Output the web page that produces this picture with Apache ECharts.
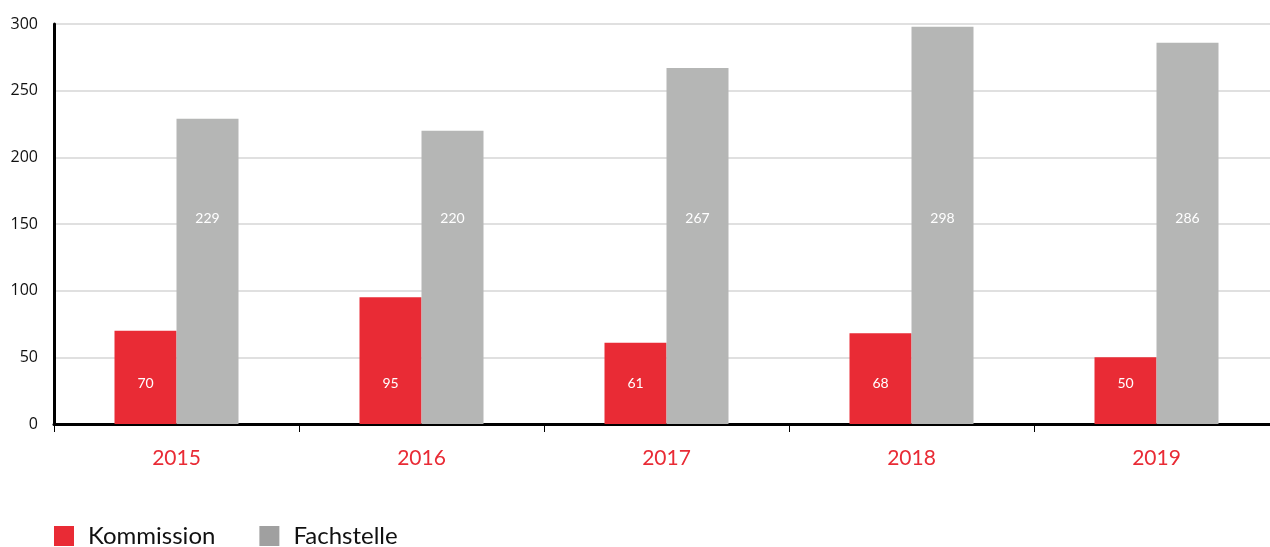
<!DOCTYPE html>
<html>
<head>
<meta charset="utf-8">
<script src="https://cdn.jsdelivr.net/npm/echarts@6/dist/echarts.min.js"></script>
<style>
  html, body { margin: 0; padding: 0; background: #fff; overflow: hidden; }
  #chart { width: 1280px; height: 547px; }
</style>
</head>
<body>
<div id="chart"></div>
<script>
var years = ['2015', '2016', '2017', '2018', '2019']
var kommission = [70, 95, 61, 68, 50]
var fachstelle = [229, 220, 267, 298, 286]
var yTicks = [0, 50, 100, 150, 200, 250, 300]

var red = '#e92b35'
var grey = '#b5b6b5'

var chart = echarts.init(document.getElementById('chart'))
chart.setOption({
  animation: false,
  textStyle: { fontFamily: 'Lato' },
  grid: { left: 54, top: 24, width: 1225, height: 400 },
  legend: {
    left: 54,
    top: 524,
    padding: 0,
    icon: 'rect',
    itemWidth: 20,
    itemHeight: 20,
    itemGap: 44,
    textStyle: { fontSize: 24, color: '#111', fontFamily: 'Lato', padding: [0, 0, 0, 9] },
    data: [
      { name: 'Kommission', itemStyle: { color: red } },
      { name: 'Fachstelle', itemStyle: { color: '#a0a0a0' } }
    ]
  },
  xAxis: {
    type: 'category',
    data: years,
    axisLine: { lineStyle: { color: '#000', width: 3 } },
    axisTick: { show: true, length: 8, lineStyle: { color: '#000', width: 1 } },
    axisLabel: { color: red, fontSize: 21, margin: 24, fontFamily: 'Lato' }
  },
  yAxis: {
    type: 'value',
    min: yTicks[0],
    max: yTicks[yTicks.length - 1],
    interval: 50,
    axisLine: { show: true, lineStyle: { color: '#000', width: 3 } },
    axisTick: { show: false },
    axisLabel: { color: '#111', fontSize: 16, margin: 16, fontFamily: 'Open Sans' },
    splitLine: { lineStyle: { color: '#e0e0e0', width: 2 } }
  },
  series: [
    {
      name: 'Kommission',
      type: 'bar',
      data: kommission,
      barWidth: 62,
      barGap: '0%',
      itemStyle: { color: red },
      label: {
        show: true,
        position: 'insideBottom',
        distance: 34,
        color: '#fff',
        fontSize: 14,
        fontFamily: 'Lato'
      }
    },
    {
      name: 'Fachstelle',
      type: 'bar',
      data: fachstelle,
      barWidth: 62,
      barGap: '0%',
      itemStyle: { color: grey },
      label: {
        show: true,
        position: 'insideBottom',
        distance: 199,
        color: '#fff',
        fontSize: 14,
        fontFamily: 'Lato'
      }
    }
  ]
})
</script>
</body>
</html>
